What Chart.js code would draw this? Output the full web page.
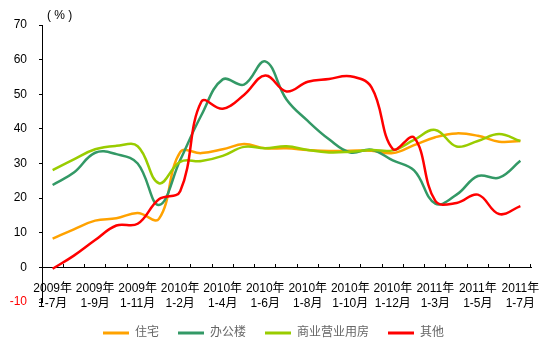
<!DOCTYPE html>
<html>
<head>
<meta charset="utf-8">
<script src="https://cdn.jsdelivr.net/npm/chart.js@4.4.1/dist/chart.umd.min.js"></script>
<style>
  html, body { margin: 0; padding: 0; background: #fff; }
  #wrap { width: 547px; height: 352px; }
</style>
</head>
<body>
<div id="wrap"><canvas id="c" width="547" height="352"></canvas></div>
<script>
const categories = [
  '2009年 1-7月','2009年 1-8月','2009年 1-9月','2009年 1-10月','2009年 1-11月','2009年 1-12月',
  '2010年 1-2月','2010年 1-3月','2010年 1-4月','2010年 1-5月','2010年 1-6月','2010年 1-7月',
  '2010年 1-8月','2010年 1-9月','2010年 1-10月','2010年 1-11月','2010年 1-12月',
  '2011年 1-2月','2011年 1-3月','2011年 1-4月','2011年 1-5月','2011年 1-6月','2011年 1-7月'
];
const seriesNames = ['住宅', '办公楼', '商业营业用房', '其他'];
const residential = [8.3, 11.0, 13.5, 14.2, 15.7, 14.0, 33.3, 33.0, 34.1, 35.6, 34.4, 34.4, 33.9, 33.6, 33.7, 33.7, 33.0, 35.3, 37.6, 38.7, 38.0, 36.3, 36.5];
const office = [23.8, 27.4, 33.1, 32.7, 30.0, 18.0, 31.0, 44.0, 54.3, 52.8, 59.5, 48.5, 42.3, 37.0, 33.2, 34.0, 30.9, 28.0, 18.4, 21.0, 26.4, 25.9, 30.8];
const commercial = [28.1, 31.2, 34.1, 35.1, 35.0, 24.3, 30.5, 30.7, 32.2, 34.8, 34.4, 35.0, 33.9, 33.2, 33.4, 33.9, 33.8, 36.8, 39.7, 34.9, 36.5, 38.5, 36.5];
const other = [-0.4, 3.4, 7.9, 12.1, 12.6, 19.7, 22.0, 47.9, 45.8, 49.8, 55.4, 50.8, 53.6, 54.4, 55.2, 52.0, 34.2, 37.5, 19.2, 18.6, 21.0, 15.4, 17.7];
const yMin = -10, yMax = 70, yStep = 10;
const unitLabel = '( % )';

const colors = ['#FFA200', '#339966', '#99CC00', '#FF0000'];
const FONT = "'Liberation Sans', Arial, 'Noto Sans CJK SC', sans-serif";

const unitPlugin = {
  id: 'unitLabel',
  afterDraw(chart) {
    const ctx = chart.ctx;
    ctx.save();
    ctx.font = '12px ' + FONT;
    ctx.fillStyle = '#000';
    ctx.textBaseline = 'middle';
    ctx.textAlign = 'left';
    ctx.fillText(unitLabel, chart.chartArea.left + 5, chart.chartArea.top - 9);
    ctx.restore();
  }
};

const allSeries = [residential, office, commercial, other];
new Chart(document.getElementById('c'), {
  type: 'line',
  data: {
    labels: categories,
    datasets: allSeries.map((d, i) => ({
      label: seriesNames[i],
      data: d,
      borderColor: colors[i],
      backgroundColor: colors[i],
      borderWidth: 2.5,
      pointRadius: 0,
      tension: 0.4,
      fill: false,
      order: 4 - i
    }))
  },
  options: {
    responsive: false,
    animation: false,
    layout: { padding: { top: 25, right: 0, left: 0, bottom: 3 } },
    plugins: {
      legend: {
        position: 'bottom',
        title: { display: true, text: ' ', padding: 0, font: { size: 6, lineHeight: 1 } },
        labels: {
          boxWidth: 26,
          boxHeight: 3,
          padding: 19,
          color: '#000',
          font: { family: FONT, size: 12 },
          sort: (a, b) => a.datasetIndex - b.datasetIndex,
          generateLabels(chart) {
            return chart.data.datasets.map((ds, i) => ({
              text: ds.label,
              fillStyle: ds.borderColor,
              strokeStyle: ds.borderColor,
              lineWidth: 0,
              hidden: false,
              datasetIndex: i
            }));
          }
        }
      },
      tooltip: { enabled: false }
    },
    scales: {
      x: {
        type: 'category',
        position: { y: 0 },
        offset: true,
        grid: { offset: true, drawOnChartArea: false, color: '#000', tickLength: -4, lineWidth: 1 },
        border: { display: true, color: '#000', width: 1 },
        ticks: {
          autoSkip: false,
          maxRotation: 0,
          minRotation: 0,
          padding: 18,
          color: '#000',
          font: { family: FONT, size: 12, lineHeight: '15px' },
          callback: function(value, index) {
            return index % 2 === 0 ? categories[index].split(' ') : '';
          }
        },
        afterFit(scale) {
          scale.height = 0;
          scale.paddingLeft = 0;
          scale.paddingRight = 0;
        }
      },
      y: {
        min: yMin,
        max: yMax,
        ticks: {
          stepSize: yStep,
          padding: 12,
          font: { family: FONT, size: 12 },
          color: (ctx) => (ctx.tick && ctx.tick.value < 0 ? '#FF0000' : '#000')
        },
        grid: { drawOnChartArea: false, color: '#000', tickLength: 3 },
        border: { display: true, color: '#000', width: 1 },
        afterFit(scale) { scale.width = 42; }
      },
      yRightMargin: {
        position: 'right',
        display: true,
        min: yMin,
        max: yMax,
        ticks: { display: false },
        grid: { display: false, drawTicks: false },
        border: { display: false },
        afterFit(scale) { scale.width = 16; }
      }
    }
  },
  plugins: [unitPlugin]
});
</script>
</body>
</html>
